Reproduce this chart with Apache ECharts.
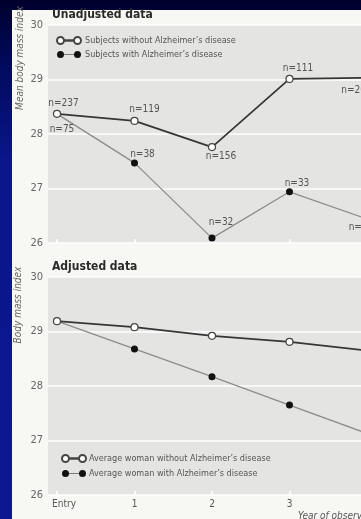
<!DOCTYPE html>
<html>
<head>
<meta charset="utf-8">
<script src="https://cdn.jsdelivr.net/npm/echarts@6/dist/echarts.min.js"></script>
<style>
  html, body { margin: 0; padding: 0; width: 361px; height: 519px; overflow: hidden; }
  #bg { position: absolute; left: 0; top: 0; width: 361px; height: 519px;
        background: linear-gradient(to bottom, #00002c 0px, #000a5a 60px, #0a168a 160px, #0b1892 519px); }
  #panel { position: absolute; left: 12px; top: 10px; right: 0; bottom: 0; background: #f7f7f4; }
  #chart { position: absolute; left: 0; top: 0; width: 361px; height: 519px; }
</style>
</head>
<body>
<div id="bg"></div>
<div id="panel"></div>
<div id="chart"></div>
<script>
// ---- data ----
const years = [0, 1, 2, 3, 4];
const xLabels = ['Entry', '1', '2', '3', '4'];
const yTicks = [26, 27, 28, 29, 30];

const unadjWithout = [28.37, 28.24, 27.76, 29.01, 29.03];
const unadjWith    = [28.37, 27.47, 26.09, 26.94, 26.44];
const nWithout = ['n=237', 'n=119', 'n=156', 'n=111', 'n=207'];
const nWith    = ['n=75', 'n=38', 'n=32', 'n=33', 'n=17'];

const adjWithout = [29.19, 29.08, 28.92, 28.81, 28.65];
const adjWith    = [29.19, 28.68, 28.17, 27.65, 27.13];

const seriesNames = [
  'Subjects without Alzheimer\u2019s disease',
  'Subjects with Alzheimer\u2019s disease',
  'Average woman without Alzheimer\u2019s disease',
  'Average woman with Alzheimer\u2019s disease'
];

// ---- layout / style (not data) ----
const FONT = "'Liberation Sans Narrow', 'DejaVu Sans Condensed', 'Roboto Condensed', sans-serif";
const withoutLabelLayout = [['top', [6.5, 2]], ['top', [10, 1]], ['bottom', [9, -3]], ['top', [8.5, 2]], ['bottom', [-10.5, 0]]];
const withLabelLayout    = [['bottom', [5, 4]], ['top', [8, 3]], ['top', [9, -4]], ['top', [7.5, 3]], ['bottom', [-6, -3]]];

const legendIcon = 'path://M0,3.5A3.5,3.5 0 1,0 7,3.5A3.5,3.5 0 1,0 0,3.5Z M7,3.2L17,3.2L17,3.8L7,3.8Z M17,3.5A3.5,3.5 0 1,0 24,3.5A3.5,3.5 0 1,0 17,3.5Z';

const openStyle = { color: '#ffffff', borderColor: '#444444', borderWidth: 1.2 };
const fillStyle = { color: '#111111', borderColor: '#111111', borderWidth: 0 };

function buildData(vals, labels, layout) {
  return years.map((x, i) => {
    const d = { value: [x, vals[i]] };
    if (labels) {
      d.label = { show: true, formatter: labels[i], position: layout[i][0], offset: layout[i][1] };
    }
    return d;
  });
}

const labelStyle = { color: '#555', fontSize: 10, fontFamily: FONT, distance: 3 };

function makeX(gridIndex, showLabels) {
  return {
    type: 'value', gridIndex, min: -0.116, max: 4.2,
    axisLine: { show: false },
    splitLine: { show: false },
    axisTick: { show: true, inside: true, length: 4, lineStyle: { color: '#ffffff', width: 1.5 }, customValues: [0, 1, 2, 3, 4] },
    axisLabel: {
      show: showLabels, customValues: [0, 1, 2, 3, 4],
      color: '#555', fontSize: 10, fontFamily: FONT, margin: 4,
      formatter: v => {
        const i = years.indexOf(Math.round(v));
        return i === 0 ? '{e|' + xLabels[0] + '}' : xLabels[i];
      },
      rich: { e: { padding: [0, 0, 0, 14], color: '#555', fontSize: 10, fontFamily: FONT } }
    }
  };
}
function makeY(gridIndex) {
  return {
    type: 'value', gridIndex, min: yTicks[0], max: yTicks[yTicks.length - 1], interval: 1,
    axisLine: { show: false }, axisTick: { show: false },
    axisLabel: { color: '#666', fontSize: 11, fontFamily: FONT, margin: 5 },
    splitLine: { show: true, lineStyle: { color: '#ffffff', width: 1.5 } }
  };
}

function lineSeries(name, vals, labels, layout, xi, yi, open) {
  return {
    name, type: 'line', xAxisIndex: xi, yAxisIndex: yi,
    data: buildData(vals, labels, layout),
    symbol: 'circle', symbolSize: 7,
    lineStyle: { color: open ? '#363636' : '#8c8c8c', width: open ? 1.7 : 1.3 },
    itemStyle: open ? openStyle : fillStyle,
    label: labelStyle,
    z: open ? 3 : 2,
    animation: false
  };
}

const chart = echarts.init(document.getElementById('chart'), null, { renderer: 'canvas' });
chart.setOption({
  backgroundColor: 'transparent',
  animation: false,
  title: [
    { text: 'Unadjusted data', left: 52, top: 9, padding: 0,
      textStyle: { fontSize: 12, fontWeight: 'bold', color: '#2a2a2a', fontFamily: FONT } },
    { text: 'Adjusted data', left: 52, top: 261, padding: 0,
      textStyle: { fontSize: 12, fontWeight: 'bold', color: '#2a2a2a', fontFamily: FONT } }
  ],
  grid: [
    { left: 48, top: 25, width: 334.5, height: 218, show: true, backgroundColor: '#e4e4e2', borderWidth: 0, outerBoundsMode: 'none', containLabel: false },
    { left: 48, top: 277, width: 334.5, height: 218, show: true, backgroundColor: '#e4e4e2', borderWidth: 0, outerBoundsMode: 'none', containLabel: false }
  ],
  legend: [
    { left: 56, top: 36, orient: 'vertical', itemWidth: 24, itemHeight: 7, itemGap: 5, padding: 0,
      icon: legendIcon, selectedMode: false,
      data: [seriesNames[0], seriesNames[1]],
      textStyle: { color: '#555', fontSize: 9, fontFamily: FONT, padding: [0, 0, 0, -1] } },
    { left: 61, top: 454, orient: 'vertical', itemWidth: 24, itemHeight: 7, itemGap: 6, padding: 0,
      icon: legendIcon, selectedMode: false,
      data: [seriesNames[2], seriesNames[3]],
      textStyle: { color: '#555', fontSize: 9, fontFamily: FONT, padding: [0, 0, 0, -2] } }
  ],
  xAxis: [makeX(0, false), makeX(1, true)],
  yAxis: [makeY(0), makeY(1)],
  series: [
    lineSeries(seriesNames[1], unadjWith, nWith, withLabelLayout, 0, 0, false),
    lineSeries(seriesNames[0], unadjWithout, nWithout, withoutLabelLayout, 0, 0, true),
    lineSeries(seriesNames[3], adjWith, null, null, 1, 1, false),
    lineSeries(seriesNames[2], adjWithout, null, null, 1, 1, true)
  ],
  graphic: [
    { type: 'text', x: 20, y: 58, rotation: Math.PI / 2,
      style: { text: 'Mean body mass index', fill: '#666', font: 'italic 10px ' + FONT, align: 'center', verticalAlign: 'middle' } },
    { type: 'text', x: 18, y: 305, rotation: Math.PI / 2,
      style: { text: 'Body mass index', fill: '#666', font: 'italic 10px ' + FONT, align: 'center', verticalAlign: 'middle' } },
    { type: 'text', x: 298, y: 511,
      style: { text: 'Year of observation', fill: '#555', font: 'italic 10px ' + FONT, align: 'left', verticalAlign: 'top' } }
  ]
});
</script>
</body>
</html>
